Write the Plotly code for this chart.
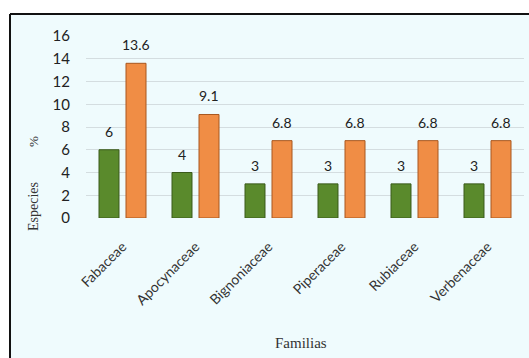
import plotly.graph_objects as go

familias = ["Fabaceae", "Apocynaceae", "Bignoniaceae", "Piperaceae", "Rubiaceae", "Verbenaceae"]
especies = [6, 4, 3, 3, 3, 3]
porcentaje = [13.6, 9.1, 6.8, 6.8, 6.8, 6.8]
y_ticks = [0, 2, 4, 6, 8, 10, 12, 14, 16]

W, H = 529, 358
L, R, T, B = 86, 5, 36, 140
pw, ph = W - L - R, H - T - B

def px_x(p):
    return (p - L) / pw

def px_y(p):
    return (H - B - p) / ph

fig = go.Figure()
fig.add_trace(go.Bar(
    x=familias, y=especies, name="Especies",
    marker=dict(color="#5a8a2c", line=dict(color="#3a5a1a", width=1)),
))
fig.add_trace(go.Bar(
    x=familias, y=porcentaje, name="%",
    marker=dict(color="#f08d45", line=dict(color="#a8571f", width=1)),
))

annotations = []
for f, v in zip(familias, especies):
    annotations.append(dict(x=f, y=v, xref="x", yref="y", text=str(v), showarrow=False,
                            xshift=-13.5, yshift=8, yanchor="bottom",
                            font=dict(family="Lato", size=14, color="#222")))
for f, v in zip(familias, porcentaje):
    annotations.append(dict(x=f, y=v, xref="x", yref="y", text=f"{v:g}", showarrow=False,
                            xshift=13.5, yshift=8, yanchor="bottom",
                            font=dict(family="Lato", size=14, color="#222")))
annotations.append(dict(x=px_x(33), y=px_y(207), xref="paper", yref="paper", text="Especies",
                        textangle=-90, showarrow=False, xanchor="center", yanchor="middle",
                        font=dict(family="Liberation Serif", size=14, color="#333")))
annotations.append(dict(x=px_x(33), y=px_y(142), xref="paper", yref="paper", text="%",
                        textangle=-90, showarrow=False, xanchor="center", yanchor="middle",
                        font=dict(family="Liberation Serif", size=13, color="#333")))
annotations.append(dict(x=px_x(301), y=px_y(343), xref="paper", yref="paper", text="Familias",
                        showarrow=False, xanchor="center", yanchor="middle",
                        font=dict(family="Liberation Serif", size=15, color="#333")))

shapes = [
    dict(type="rect", xref="paper", yref="paper", layer="below",
         x0=px_x(10), x1=px_x(W), y0=px_y(H), y1=px_y(14),
         fillcolor="#effbfd", line=dict(width=0)),
    dict(type="line", xref="paper", yref="paper", layer="below",
         x0=px_x(10), x1=px_x(W), y0=px_y(14), y1=px_y(14),
         line=dict(color="#111", width=2)),
    dict(type="line", xref="paper", yref="paper", layer="below",
         x0=px_x(10), x1=px_x(10), y0=px_y(H), y1=px_y(14),
         line=dict(color="#111", width=2)),
]

fig.update_layout(
    width=W, height=H,
    margin=dict(l=L, r=R, t=T, b=B),
    paper_bgcolor="white",
    plot_bgcolor="rgba(0,0,0,0)",
    showlegend=False,
    barmode="group",
    bargap=0.26,
    bargroupgap=0.26,
    annotations=annotations,
    shapes=shapes,
    xaxis=dict(tickangle=-45, showgrid=False, showline=False, zeroline=False,
               ticks="outside", ticklen=14, tickcolor="rgba(0,0,0,0)",
               tickfont=dict(family="Lato", size=14, color="#333")),
    yaxis=dict(range=[0, 16], tickvals=y_ticks, showgrid=True, gridcolor="#d4dde0",
               gridwidth=1, zeroline=False, showline=False,
               ticks="outside", ticklen=12, tickcolor="rgba(0,0,0,0)",
               tickfont=dict(family="Lato", size=15, color="#222")),
)

fig.write_html("out.html")
